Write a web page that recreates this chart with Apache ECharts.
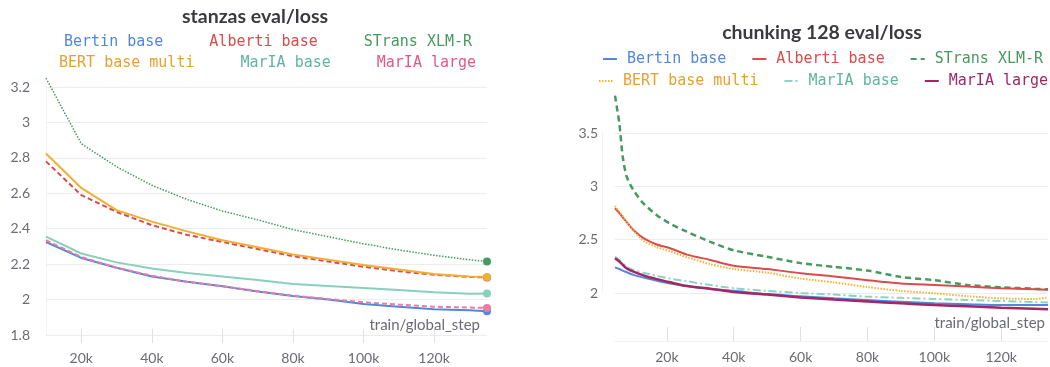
<!DOCTYPE html>
<html><head><meta charset="utf-8">
<script src="https://cdn.jsdelivr.net/npm/echarts@6/dist/echarts.min.js"></script>
<style>html,body{margin:0;padding:0;background:#fff}#c{width:1050px;height:367px}</style>
</head><body><div id="c"></div><script>
// ---------- data ----------
const seriesNames = ['Bertin base', 'Alberti base', 'STrans XLM-R', 'BERT base multi', 'MarIA base', 'MarIA large'];

// left chart: stanzas eval/loss
const stanzasSteps = [10000, 20000, 30000, 40000, 50000, 60000, 70000, 80000, 90000, 100000, 110000, 120000, 130000, 135000];
const stanzasBertin  = [2.325, 2.235, 2.18, 2.13, 2.10, 2.075, 2.045, 2.02, 2.0, 1.975, 1.96, 1.945, 1.94, 1.934];
const stanzasAlberti = [2.78, 2.59, 2.495, 2.42, 2.365, 2.325, 2.285, 2.245, 2.215, 2.185, 2.16, 2.14, 2.128, 2.125];
const stanzasSTrans  = [3.25, 2.88, 2.75, 2.645, 2.565, 2.50, 2.45, 2.395, 2.355, 2.315, 2.28, 2.25, 2.225, 2.215];
const stanzasBERT    = [2.825, 2.63, 2.505, 2.44, 2.385, 2.335, 2.295, 2.255, 2.225, 2.195, 2.17, 2.145, 2.13, 2.127];
const stanzasMarIAb  = [2.355, 2.26, 2.21, 2.175, 2.15, 2.13, 2.11, 2.088, 2.077, 2.066, 2.054, 2.041, 2.033, 2.034];
const stanzasMarIAl  = [2.335, 2.24, 2.18, 2.135, 2.10, 2.075, 2.048, 2.022, 2.003, 1.985, 1.972, 1.96, 1.955, 1.953];

// right chart: chunking 128 eval/loss
const chunkSteps = [4500, 5800, 6800, 8000, 10000, 13000, 17000, 21000, 26000, 33000, 40000, 50000, 60000, 70000, 80000, 90000, 100000, 110000, 120000, 130000, 134000];
const chunkBertin  = [2.24, 2.225, 2.21, 2.195, 2.17, 2.145, 2.115, 2.09, 2.065, 2.038, 2.02, 1.99, 1.97, 1.95, 1.934, 1.918, 1.903, 1.895, 1.888, 1.888, 1.888];
const chunkAlberti = [2.795, 2.75, 2.71, 2.665, 2.59, 2.515, 2.455, 2.42, 2.36, 2.31, 2.255, 2.225, 2.185, 2.155, 2.12, 2.09, 2.075, 2.06, 2.044, 2.035, 2.03];
const chunkSTrans  = [3.85, 3.59, 3.28, 3.09, 2.965, 2.84, 2.73, 2.65, 2.575, 2.48, 2.40, 2.34, 2.28, 2.245, 2.21, 2.15, 2.12, 2.075, 2.053, 2.04, 2.035];
const chunkBERT    = [2.815, 2.76, 2.72, 2.665, 2.585, 2.49, 2.43, 2.39, 2.335, 2.27, 2.225, 2.19, 2.135, 2.10, 2.055, 2.02, 1.997, 1.97, 1.95, 1.944, 1.958];
const chunkMarIAb  = [2.34, 2.31, 2.28, 2.245, 2.215, 2.19, 2.16, 2.135, 2.11, 2.075, 2.045, 2.02, 2.0, 1.985, 1.966, 1.955, 1.944, 1.935, 1.925, 1.915, 1.91];
const chunkMarIAl  = [2.325, 2.295, 2.265, 2.23, 2.20, 2.165, 2.13, 2.10, 2.065, 2.04, 2.01, 1.985, 1.958, 1.938, 1.92, 1.903, 1.888, 1.875, 1.862, 1.852, 1.847];

// ticks
const xTickValues = [20000, 40000, 60000, 80000, 100000, 120000];
const stanzasYTicks = { min: 1.8, max: 3.2, interval: 0.2 };
const chunkYTicks = { min: 2, max: 3.5, interval: 0.5 };

// ---------- styles ----------
const FONT = 'Lato';
const MONO = 'DejaVu Sans Mono';
const AXIS_TXT = '#6b6b76';
const leftStyles = [
  { color: '#5387DD', text: '#5387DD', width: 2, type: 'solid' },
  { color: '#DA4C4C', text: '#DA4C4C', width: 2, type: [5, 3] },
  { color: '#479A5F', text: '#479A5F', width: 1.5, type: [1.5, 1.5] },
  { color: '#EFB035', text: '#E6A12E', width: 2, type: 'solid' },
  { color: '#87D0BC', text: '#5DB5A0', width: 2, type: 'solid' },
  { color: '#EC7DA2', text: '#E0588A', width: 2, type: [5, 3] }
];
const rightStyles = [
  { color: '#5387DD', text: '#5387DD', width: 2, type: 'solid' },
  { color: '#DA4C4C', text: '#DA4C4C', width: 2, type: 'solid' },
  { color: '#479A5F', text: '#479A5F', width: 2.5, type: [6, 4] },
  { color: '#F2B233', text: '#E6A12E', width: 2, type: [1.5, 1.5] },
  { color: '#8ED2C2', text: '#5DB5A0', width: 2, type: [8, 3, 2, 3] },
  { color: '#A12864', text: '#A12864', width: 2.5, type: 'solid' }
];
const leftVals = [stanzasBertin, stanzasAlberti, stanzasSTrans, stanzasBERT, stanzasMarIAb, stanzasMarIAl];
const rightVals = [chunkBertin, chunkAlberti, chunkSTrans, chunkBERT, chunkMarIAb, chunkMarIAl];

const series = [];
const drawOrderLeft = [2, 1, 3, 4, 0, 5];
drawOrderLeft.forEach((i, k) => {
  const st = leftStyles[i];
  const n = stanzasSteps.length;
  series.push({
    name: seriesNames[i], type: 'line', xAxisIndex: 0, yAxisIndex: 0,
    data: stanzasSteps.map((s, j) => [s, leftVals[i][j]]),
    symbol: 'circle', showSymbol: true, showAllSymbol: true,
    symbolSize: (v, p) => (p.dataIndex === n - 1 ? 8 : 0),
    lineStyle: { color: st.color, width: st.width, type: st.type },
    itemStyle: { color: st.color, borderWidth: 0 },
    clip: false, z: 2 + k, emphasis: { disabled: true }
  });
});
const drawOrderRight = [2, 1, 3, 4, 0, 5];
drawOrderRight.forEach((i, k) => {
  const st = rightStyles[i];
  series.push({
    name: 'r:' + seriesNames[i], type: 'line', xAxisIndex: 1, yAxisIndex: 1,
    data: chunkSteps.map((s, j) => [s, rightVals[i][j]]),
    symbol: 'none', smooth: 0.25,
    lineStyle: { color: st.color, width: st.width, type: st.type },
    itemStyle: { color: st.color },
    clip: false, z: 2 + k, emphasis: { disabled: true }
  });
});

function legendRow(names, styles, prefix, left, top, gap, icon) {
  const lg = {
    left: left, top: top, orient: 'horizontal', padding: 0, itemGap: gap,
    itemWidth: icon ? 14 : 0, itemHeight: icon ? 10 : 0,
    selectedMode: false,
    formatter: n => n.replace(/^r:/, ''),
    textStyle: { fontFamily: MONO, fontSize: 15, lineHeight: 18, padding: icon ? [0, 0, 0, 5] : 0 },
    data: names.map(n => {
      const i = seriesNames.indexOf(n);
      return { name: prefix + n, textStyle: { color: styles[i].text } };
    })
  };
  if (icon) {
    lg.itemStyle = { opacity: 0, borderWidth: 0 };
  } else {
    lg.icon = 'rect';
    lg.itemStyle = { opacity: 0 };
    lg.lineStyle = { opacity: 0 };
  }
  return lg;
}

const kfmt = v => (v / 1000) + 'k';
const yfmt = v => String(Number(v.toFixed(1)));

const option = {
  animation: false,
  backgroundColor: '#fff',
  grid: [
    { left: 46, top: 87, width: 441, height: 248 },
    { left: 615, top: 133, width: 433, height: 160 }
  ],
  xAxis: [
    {
      gridIndex: 0, type: 'value', min: 10000, max: 135000, offset: 8,
      splitLine: { show: false },
      axisLine: { show: false },
      axisTick: { show: true, inside: true, length: 14, lineStyle: { color: '#e0e0e0' }, customValues: xTickValues },
      axisLabel: { customValues: xTickValues, formatter: kfmt, color: AXIS_TXT, fontFamily: FONT, fontSize: 14, margin: 8 }
    },
    {
      gridIndex: 1, type: 'value', min: 4500, max: 134000, offset: 48,
      splitLine: { show: false },
      axisLine: { show: true, lineStyle: { color: '#f2f2f2' } },
      axisTick: { show: true, inside: true, length: 14, lineStyle: { color: '#e0e0e0' }, customValues: xTickValues },
      axisLabel: { customValues: xTickValues, formatter: kfmt, color: AXIS_TXT, fontFamily: FONT, fontSize: 14, margin: 9 }
    }
  ],
  yAxis: [
    {
      gridIndex: 0, type: 'value', min: stanzasYTicks.min, max: stanzasYTicks.max, interval: stanzasYTicks.interval,
      axisLine: { show: true, lineStyle: { color: '#f2f2f2' } },
      axisTick: { show: false },
      splitLine: { lineStyle: { color: '#ececec' } },
      axisLabel: { formatter: yfmt, color: AXIS_TXT, fontFamily: FONT, fontSize: 14, margin: 16 }
    },
    {
      gridIndex: 1, type: 'value', min: chunkYTicks.min, max: chunkYTicks.max, interval: chunkYTicks.interval, offset: 13,
      axisLine: { show: true, lineStyle: { color: '#f2f2f2' } },
      axisTick: { show: false },
      splitLine: { lineStyle: { color: '#ececec' } },
      axisLabel: { formatter: yfmt, color: AXIS_TXT, fontFamily: FONT, fontSize: 14, margin: 4 }
    }
  ],
  legend: [
    legendRow(['Bertin base', 'Alberti base', 'STrans XLM-R'], leftStyles, '', 59, 33, 41, false),
    legendRow(['BERT base multi', 'MarIA base', 'MarIA large'], leftStyles, '', 54, 54, 41, false),
    legendRow(['Bertin base', 'Alberti base', 'STrans XLM-R'], rightStyles, 'r:', 602, 50, 25, true),
    legendRow(['BERT base multi', 'MarIA base', 'MarIA large'], rightStyles, 'r:', 598, 72, 25, true)
  ],
  graphic: [
    { type: 'text', x: 255, y: 17, style: { text: 'stanzas eval/loss', font: 'bold 19.5px Lato', fill: '#3a3a40', align: 'center', verticalAlign: 'middle' } },
    { type: 'text', x: 822, y: 33, style: { text: 'chunking 128 eval/loss', font: 'bold 19.5px Lato', fill: '#3a3a40', align: 'center', verticalAlign: 'middle' } },
    { type: 'text', x: 480, y: 325, z: 10, style: { text: 'train/global_step', font: '15px Lato', fill: AXIS_TXT, align: 'right', verticalAlign: 'middle' } },
    { type: 'text', x: 1045, y: 323, z: 10, style: { text: 'train/global_step', font: '15px Lato', fill: AXIS_TXT, align: 'right', verticalAlign: 'middle' } }
  ],
  series: series
};
const chart = echarts.init(document.getElementById('c'), null, { renderer: 'canvas' });
chart.setOption(option);
</script></body></html>
